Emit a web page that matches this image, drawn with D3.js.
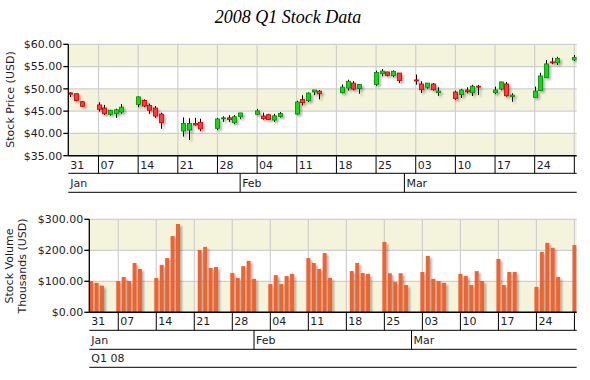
<!DOCTYPE html>
<html><head><meta charset="utf-8">
<script src="https://cdn.jsdelivr.net/npm/d3@7"></script>
<style>
body{margin:0;background:#fff}
svg{display:block}
text{font-family:"DejaVu Sans",Verdana,sans-serif;font-size:11px;fill:#1c1c2c}
</style>
</head><body><svg id="c" width="590" height="380"></svg>
<script>
const dates=["2008-01-02","2008-01-03","2008-01-04","2008-01-07","2008-01-08","2008-01-09","2008-01-10","2008-01-11","2008-01-14","2008-01-15","2008-01-16","2008-01-17","2008-01-18","2008-01-22","2008-01-23","2008-01-24","2008-01-25","2008-01-28","2008-01-29","2008-01-30","2008-01-31",
"2008-02-01","2008-02-04","2008-02-05","2008-02-06","2008-02-07","2008-02-08","2008-02-11","2008-02-12","2008-02-13","2008-02-14","2008-02-15","2008-02-19","2008-02-20","2008-02-21","2008-02-22","2008-02-25","2008-02-26","2008-02-27","2008-02-28","2008-02-29",
"2008-03-03","2008-03-04","2008-03-05","2008-03-06","2008-03-07","2008-03-10","2008-03-11","2008-03-12","2008-03-13","2008-03-14","2008-03-17","2008-03-18","2008-03-19","2008-03-20","2008-03-24","2008-03-25","2008-03-26","2008-03-27","2008-03-28","2008-03-31"];
const open =[49.1,48.9,47.1,46.4,45.7,44.3,44.4,44.8,46.5,47.4,46.3,45.7,44.35,40.55,40.75,42.25,42.5,41.15,43.3,43.5,42.4,
43.75,44.3,43.9,44.2,43.0,43.8,44.35,47.6,47.35,49.3,49.5,49.15,50.2,51.3,50.05,51.0,53.4,53.8,52.95,53.55,
52.0,51.1,50.35,51.1,49.15,49.3,48.7,49.75,49.15,50.6,49.15,49.95,51.1,48.3,48.1,49.6,52.5,56.05,55.85,56.5];
const high =[49.3,49.0,47.3,47.0,46.4,45.3,45.55,46.6,48.3,47.65,46.7,46.15,44.65,43.6,43.4,43.5,43.3,43.5,43.85,44.1,44.1,
44.6,45.5,44.65,44.4,44.4,44.8,47.35,48.55,49.2,49.75,49.75,51.0,52.05,51.75,51.0,54.1,54.45,53.85,54.15,53.55,
53.2,51.7,51.3,51.3,50.35,49.6,50.0,50.35,50.9,50.9,50.5,51.6,51.55,49.0,50.5,53.6,56.5,57.0,57.2,57.6];
const low  =[48.2,47.2,46.0,44.9,44.1,44.0,43.5,44.4,45.9,45.9,44.4,43.5,41.05,39.3,38.5,41.75,40.5,40.75,42.6,42.6,42.05,
43.2,44.2,43.1,43.0,42.6,43.55,44.2,46.3,47.05,48.6,47.65,49.0,49.6,49.7,48.9,50.7,52.8,52.8,52.6,51.3,
50.95,49.05,50.05,49.6,48.45,47.55,47.95,49.0,48.4,48.6,48.8,49.7,48.25,47.1,48.1,49.6,52.5,55.55,55.35,56.25];
const close=[48.8,47.4,46.1,45.4,44.4,45.2,45.3,45.9,48.2,46.15,45.2,43.9,42.4,42.25,42.25,41.9,41.0,43.25,43.5,43.1,43.75,
44.6,45.05,43.3,43.1,43.95,44.5,47.05,46.9,49.05,49.75,48.9,50.4,51.7,49.95,51.0,53.65,54.0,53.05,53.95,51.85,
51.85,49.8,51.3,49.8,49.5,47.8,49.75,49.35,50.6,50.5,49.75,51.55,48.45,48.6,49.5,52.9,55.6,55.95,56.85,57.05];
const volume=[101,95,86,101,114,101,159,140,111,153,175,246,285,201,211,143,146,127,111,149,166,
108,91,120,91,117,124,175,159,140,191,111,133,159,127,124,227,126,98,126,88,
130,182,108,101,95,124,117,88,133,101,172,88,130,130,82,195,224,208,114,217];
const priceTicks=[35,40,45,50,55,60];
const volumeTicks=[0,100,200,300];
const quarterLabel="Q1 08";
const titleText="2008 Q1 Stock Data";

const parse=d3.utcParse("%Y-%m-%d");
const data=dates.map((d,i)=>({date:parse(d),o:open[i],h:high[i],l:low[i],c:close[i],v:volume[i]}));
const H=3600e3;
const domain=[new Date(data[0].date.getTime()-8*H), new Date(data[data.length-1].date.getTime()+10*H)];

const svg=d3.select("#c");
const defs=svg.append("defs");
const f=defs.append("filter").attr("id","sh").attr("x","-50%").attr("y","-50%").attr("width","200%").attr("height","200%");
f.append("feDropShadow").attr("dx",2).attr("dy",2).attr("stdDeviation",1.2).attr("flood-color","#000").attr("flood-opacity",0.3);

svg.append("text").attr("x",288).attr("y",23).attr("text-anchor","middle")
  .style("font-family","'Liberation Serif','Times New Roman',serif").style("font-style","italic").style("font-size","18px").style("fill","#000")
  .text(titleText);

function panel(o){
  const x=d3.scaleUtc().domain(domain).range([o.L,o.R]);
  const y=d3.scaleLinear().domain([o.ticks[0],o.ticks[o.ticks.length-1]]).range([o.B,o.T]);
  const g=svg.append("g");
  const cid="clip"+o.id;
  defs.append("clipPath").attr("id",cid).append("rect").attr("x",o.L).attr("y",o.T-10).attr("width",o.R-o.L).attr("height",o.B-o.T+10);
  for(let i=0;i<o.ticks.length-1;i++){
    if(i%2===0) g.append("rect").attr("x",o.L).attr("width",o.R-o.L).attr("y",y(o.ticks[i+1])).attr("height",y(o.ticks[i])-y(o.ticks[i+1])).attr("fill","#f4f3dc");
  }
  const mondays=d3.utcMonday.range(domain[0],domain[1]);
  g.selectAll(null).data(o.ticks.slice(1)).join("line").attr("x1",o.L).attr("x2",o.R).attr("y1",d=>y(d)).attr("y2",d=>y(d)).attr("stroke","#cfcfcf").attr("stroke-width",1.2);
  g.selectAll(null).data(mondays).join("line").attr("x1",d=>x(d)).attr("x2",d=>x(d)).attr("y1",o.T).attr("y2",o.B).attr("stroke","#cfcfcf").attr("stroke-width",1.2);
  const m=g.append("g").attr("clip-path",`url(#${cid})`).append("g").attr("filter","url(#sh)");
  o.draw(m,x,y);
  g.append("line").attr("x1",o.L).attr("x2",o.L).attr("y1",o.T).attr("y2",o.B).attr("stroke","#000").attr("stroke-width",1.3);
  o.ticks.forEach(t=>{
    g.append("line").attr("x1",o.L-5).attr("x2",o.L).attr("y1",y(t)).attr("y2",y(t)).attr("stroke","#000").attr("stroke-width",1.3);
    g.append("text").attr("x",o.L-6).attr("y",y(t)).attr("dy","0.35em").attr("text-anchor","end").text(d3.format("$,.2f")(t));
  });
  g.append("line").attr("x1",o.L).attr("x2",o.R).attr("y1",o.B).attr("y2",o.B).attr("stroke","#000").attr("stroke-width",1.5);
  const rows=o.rows;
  let yy=o.B;
  const y1=yy+rows[0];
  g.selectAll(null).data(mondays).join("line").attr("x1",d=>x(d)).attr("x2",d=>x(d)).attr("y1",yy).attr("y2",y1).attr("stroke","#000");
  const weekStarts=[d3.utcMonday.floor(domain[0]),...mondays].filter(d=>x(d)<o.R-15);
  g.selectAll(null).data(weekStarts).join("text").attr("x",d=>Math.max(x(d),o.L)+2).attr("y",yy+13).text(d3.utcFormat("%d"));
  g.append("line").attr("x1",o.L).attr("x2",o.R).attr("y1",y1).attr("y2",y1).attr("stroke","#000");
  const y2=y1+rows[1];
  const months=d3.utcMonth.range(domain[0],domain[1]);
  g.selectAll(null).data(months).join("line").attr("x1",d=>x(d)).attr("x2",d=>x(d)).attr("y1",y1).attr("y2",y2).attr("stroke","#000");
  const monthStarts=[d3.utcMonth.floor(domain[0]),...months];
  g.selectAll(null).data(monthStarts).join("text").attr("x",d=>Math.max(x(d),o.L)+2).attr("y",y1+14).text(d3.utcFormat("%b"));
  g.append("line").attr("x1",o.L).attr("x2",o.R).attr("y1",y2).attr("y2",y2).attr("stroke","#000");
  if(rows.length>2){
    const y3=y2+rows[2];
    g.append("text").attr("x",o.L+2).attr("y",y2+13).text(quarterLabel);
    g.append("line").attr("x1",o.L).attr("x2",o.R).attr("y1",y3).attr("y2",y3).attr("stroke","#000");
  }
}

panel({id:"p",L:68.3,R:576.7,T:44.3,B:155.7,ticks:priceTicks,rows:[17.6,19],
  draw:(m,x,y)=>{
    const c=m.selectAll("g").data(data).join("g");
    c.append("line").attr("x1",d=>Math.round(x(d.date))+0.5).attr("x2",d=>Math.round(x(d.date))+0.5).attr("y1",d=>y(d.h)).attr("y2",d=>y(d.l)).attr("stroke","#000").attr("stroke-width",1);
    c.append("rect").attr("x",d=>Math.round(x(d.date))-1.5).attr("width",4)
      .attr("y",d=>y(Math.max(d.o,d.c))).attr("height",d=>Math.max(1,Math.abs(y(d.o)-y(d.c))))
      .attr("fill",d=>d.c>=d.o?"#11dd11":"#ff3b3b").attr("stroke",d=>d.c>=d.o?"#008800":"#cc0000").attr("stroke-width",0.8);
  }});

panel({id:"v",L:89.3,R:576.7,T:219.3,B:312.3,ticks:volumeTicks,rows:[18,19,18],
  draw:(m,x,y)=>{
    m.selectAll("rect").data(data).join("rect").attr("x",d=>x(d.date)-2).attr("width",4)
      .attr("y",d=>y(d.v)).attr("height",d=>y(0)-y(d.v)).attr("fill","#ee6433");
  }});

svg.append("text").attr("transform","translate(14,99.5) rotate(-90)").attr("text-anchor","middle").text("Stock Price (USD)");
svg.append("text").attr("transform","translate(12.5,266) rotate(-90)").attr("text-anchor","middle").text("Stock Volume");
svg.append("text").attr("transform","translate(26,266) rotate(-90)").attr("text-anchor","middle").text("Thousands (USD)");
</script></body></html>
